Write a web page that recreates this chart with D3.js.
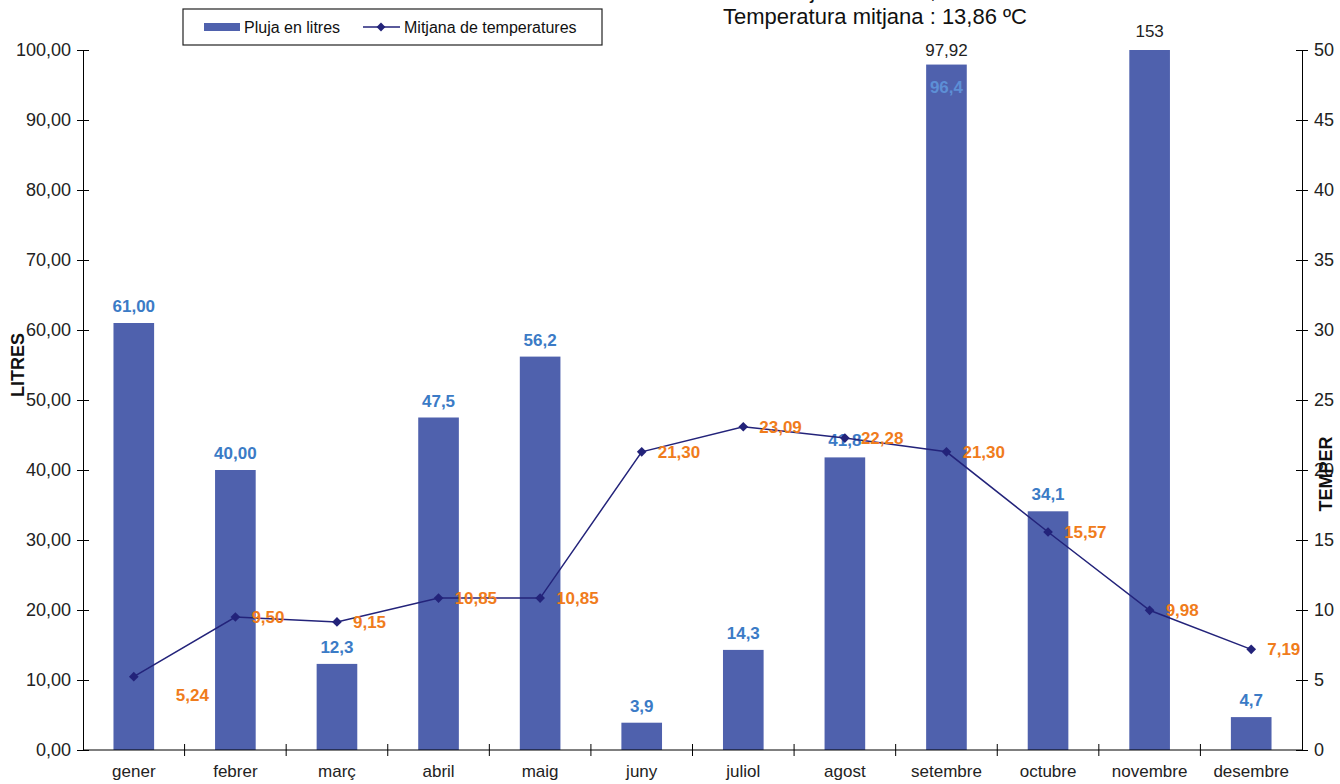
<!DOCTYPE html>
<html>
<head>
<meta charset="utf-8">
<script src="https://cdn.jsdelivr.net/npm/d3@7"></script>
<style>
  body { margin: 0; background: #fff; }
  svg text { font-family: "Liberation Sans", Arial, sans-serif; }
</style>
</head>
<body>
<div id="chart"></div>
<script>
// months and series values
var months = ["gener", "febrer", "març", "abril", "maig", "juny", "juliol", "agost", "setembre", "octubre", "novembre", "desembre"];
var rain = [61.00, 40.00, 12.3, 47.5, 56.2, 3.9, 14.3, 41.8, 97.92, 34.1, 153, 4.7];
var rainLabels = ["61,00", "40,00", "12,3", "47,5", "56,2", "3,9", "14,3", "41,8", "96,4", "34,1", "153", "4,7"];
var temps = [5.24, 9.50, 9.15, 10.85, 10.85, 21.30, 23.09, 22.28, 21.30, 15.57, 9.98, 7.19];
var leftTicks = [0, 10, 20, 30, 40, 50, 60, 70, 80, 90, 100];
var rightTicks = [0, 5, 10, 15, 20, 25, 30, 35, 40, 45, 50];

var width = 1340,
    height = 784;
var x0 = 83, x1 = 1302, yTop = 50, yBot = 750;

var svg = d3.select("#chart").append("svg")
    .attr("width", width)
    .attr("height", height);

var x = d3.scaleBand().domain(months).range([x0, x1]).paddingInner(0.6).paddingOuter(0.3);
var yL = d3.scaleLinear().domain([0, 100]).range([yBot, yTop]).clamp(true);
var yR = d3.scaleLinear().domain([0, 50]).range([yBot, yTop]);
var fmt = function(v) { return d3.format(".2f")(v).replace(".", ","); };

var blue = "#4f61ad", navy = "#23237a", lblBlue = "#3b7bc6", orange = "#f07c1c";

// bars
svg.selectAll("rect.bar")
  .data(rain).enter().append("rect")
    .attr("class", "bar")
    .attr("x", function(d, i) { return x(months[i]); })
    .attr("width", x.bandwidth())
    .attr("y", function(d) { return yL(d); })
    .attr("height", function(d) { return yBot - yL(d); })
    .style("fill", blue);

// bar labels (setembre label sits inside, novembre one is black above the clipped bar)
svg.selectAll("text.blab")
  .data(rain).enter().append("text")
    .attr("class", "blab")
    .attr("x", function(d, i) { return x(months[i]) + x.bandwidth() / 2; })
    .attr("y", function(d, i) {
        if (months[i] == "setembre") return yL(d) + 28;
        if (months[i] == "novembre") return yL(d) - 13;
        return yL(d) - 11;
    })
    .attr("text-anchor", "middle")
    .style("font-size", "17px")
    .style("font-weight", function(d, i) { return months[i] == "novembre" ? "normal" : "bold"; })
    .style("fill", function(d, i) {
        if (months[i] == "novembre") return "#222";
        if (months[i] == "setembre") return "#5d8fd6";
        return lblBlue;
    })
    .text(function(d, i) { return rainLabels[i]; });

svg.append("text")
    .attr("x", x("setembre") + x.bandwidth() / 2)
    .attr("y", yL(100) + 6)
    .attr("text-anchor", "middle")
    .style("font-size", "17px")
    .style("fill", "#222")
    .text("97,92");

// temperature line
var line = d3.line()
    .x(function(d, i) { return x(months[i]) + x.bandwidth() / 2; })
    .y(function(d) { return yR(d); });

svg.append("path")
    .datum(temps)
    .attr("d", line)
    .style("fill", "none")
    .style("stroke", navy)
    .style("stroke-width", 1.5);

svg.selectAll("path.dot")
  .data(temps).enter().append("path")
    .attr("class", "dot")
    .attr("d", d3.symbol().type(d3.symbolDiamond2).size(60))
    .attr("transform", function(d, i) {
        return "translate(" + (x(months[i]) + x.bandwidth() / 2) + "," + yR(d) + ")";
    })
    .style("fill", navy);

svg.selectAll("text.tlab")
  .data(temps).enter().append("text")
    .attr("class", "tlab")
    .attr("x", function(d, i) { return x(months[i]) + x.bandwidth() / 2 + (i == 0 ? 42 : 16); })
    .attr("y", function(d, i) { return yR(d) + (i == 0 ? 24 : 6); })
    .style("font-size", "17px")
    .style("font-weight", "bold")
    .style("fill", orange)
    .text(function(d) { return fmt(d); });

// axes
var cross = function(g) {
    g.select(".domain").style("stroke", "#000");
    g.selectAll(".tick line").style("stroke", "#000");
};

var axL = svg.append("g")
    .attr("transform", "translate(" + x0 + ",0)")
    .call(d3.axisLeft(yL).tickValues(leftTicks).tickSize(6).tickSizeOuter(0).tickFormat(fmt))
    .call(cross);
axL.selectAll(".tick line").attr("x2", 6).attr("x1", -6);
axL.selectAll(".tick text").attr("x", -12).style("font-size", "18px").style("fill", "#222");

var axR = svg.append("g")
    .attr("transform", "translate(" + x1 + ",0)")
    .call(d3.axisRight(yR).tickValues(rightTicks).tickSize(6).tickSizeOuter(0))
    .call(cross);
axR.selectAll(".tick line").attr("x1", -6).attr("x2", 6);
axR.selectAll(".tick text").attr("x", 12).style("font-size", "18px").style("fill", "#222");

// bottom axis with ticks on category boundaries
var axB = svg.append("g")
    .attr("transform", "translate(0," + yBot + ")")
    .call(d3.axisBottom(x).tickSize(0).tickSizeOuter(0))
    .call(cross);
axB.select(".domain").attr("d", "M" + x0 + ",0H" + x1);
axB.selectAll(".tick text").attr("y", 15).attr("dy", "0.71em").style("font-size", "17px").style("fill", "#222");
svg.selectAll("line.btick")
  .data(months.slice(1)).enter().append("line")
    .attr("class", "btick")
    .attr("x1", function(d) { return x(d) - x.step() * x.paddingInner() / 2; })
    .attr("x2", function(d) { return x(d) - x.step() * x.paddingInner() / 2; })
    .attr("y1", yBot - 6)
    .attr("y2", yBot + 6)
    .style("stroke", "#000");

// axis titles
svg.append("text")
    .attr("transform", "translate(24,365) rotate(-90)")
    .attr("text-anchor", "middle")
    .style("font-size", "18px")
    .style("font-weight", "bold")
    .style("fill", "#111")
    .text("LITRES");

svg.append("text")
    .attr("transform", "translate(1332,474) rotate(-90)")
    .attr("text-anchor", "middle")
    .style("font-size", "18px")
    .style("font-weight", "bold")
    .style("fill", "#111")
    .text("TEMPER");

// titles (top line is cut off by the picture edge, as in the original)
svg.append("text")
    .attr("x", 875)
    .attr("y", -2)
    .attr("text-anchor", "middle")
    .style("font-size", "22px")
    .style("fill", "#111")
    .text("Pluja total :  566,72 l");

svg.append("text")
    .attr("x", 875)
    .attr("y", 24)
    .attr("text-anchor", "middle")
    .style("font-size", "22px")
    .style("fill", "#111")
    .text("Temperatura mitjana :  13,86 ºC");

// legend
var lg = svg.append("g").attr("transform", "translate(183,9)");
lg.append("rect")
    .attr("width", 419).attr("height", 36)
    .style("fill", "#fff").style("stroke", "#222").style("stroke-width", 1.2);
lg.append("rect")
    .attr("x", 21).attr("y", 14).attr("width", 36).attr("height", 8)
    .style("fill", blue);
lg.append("text")
    .attr("x", 61).attr("y", 24)
    .style("font-size", "16px").style("fill", "#111")
    .text("Pluja en litres");
lg.append("line")
    .attr("x1", 180).attr("x2", 217).attr("y1", 18).attr("y2", 18)
    .style("stroke", navy).style("stroke-width", 1.5);
lg.append("path")
    .attr("d", d3.symbol().type(d3.symbolDiamond2).size(50))
    .attr("transform", "translate(198,18)")
    .style("fill", navy);
lg.append("text")
    .attr("x", 221).attr("y", 24)
    .style("font-size", "16px").style("fill", "#111")
    .text("Mitjana de temperatures");
</script>
</body>
</html>
